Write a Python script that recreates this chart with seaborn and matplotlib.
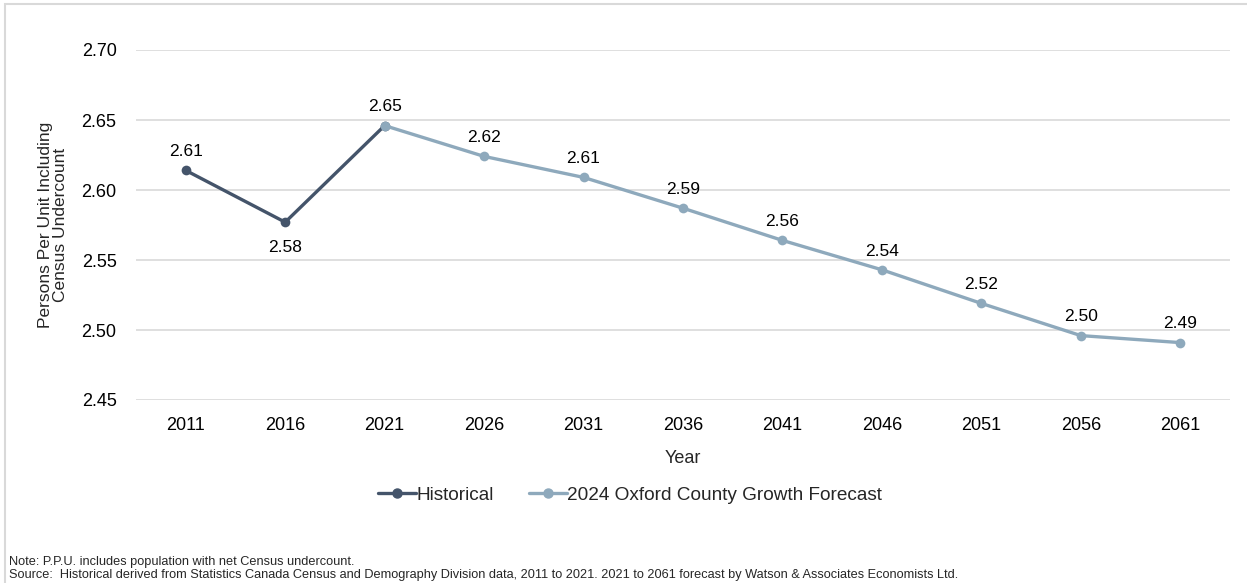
import matplotlib
matplotlib.use("Agg")
import matplotlib.pyplot as plt
import seaborn as sns
import pandas as pd
from matplotlib.patches import Rectangle
from matplotlib.lines import Line2D

hist_years = [2011, 2016, 2021]
hist_ppu = [2.614, 2.577, 2.646]
fc_years = [2021, 2026, 2031, 2036, 2041, 2046, 2051, 2056, 2061]
fc_ppu = [2.646, 2.624, 2.609, 2.587, 2.564, 2.543, 2.519, 2.496, 2.491]
labels = ["2.61", "2.58", "2.65", "2.62", "2.61", "2.59", "2.56", "2.54", "2.52", "2.50", "2.49"]
label_years = [2011, 2016, 2021, 2026, 2031, 2036, 2041, 2046, 2051, 2056, 2061]
label_vals = [2.614, 2.577, 2.646, 2.624, 2.609, 2.587, 2.564, 2.543, 2.519, 2.496, 2.491]
label_below = [False, True, False, False, False, False, False, False, False, False, False]
y_ticks = [2.45, 2.50, 2.55, 2.60, 2.65, 2.70]

HIST = "Historical"
FC = "2024 Oxford County Growth Forecast"
df = pd.DataFrame({
    "Year": hist_years + fc_years,
    "PPU": hist_ppu + fc_ppu,
    "Series": [HIST] * len(hist_years) + [FC] * len(fc_years),
})

sns.set_theme(style="white")
plt.rcParams["font.family"] = ["Liberation Sans", "DejaVu Sans"]

W, H = 1247, 583
fig = plt.figure(figsize=(W / 100, H / 100), dpi=100)
ax = fig.add_axes([136 / W, 1 - 400 / H, (1230 - 136) / W, 350 / H])

palette = {HIST: "#44546A", FC: "#8EA9BC"}
sns.lineplot(data=df, x="Year", y="PPU", hue="Series", palette=palette,
             marker="o", markersize=7, markeredgewidth=0, linewidth=2.4,
             ax=ax, legend=False, zorder=3)

ax.set_xlim(2011 - 2.5, 2061 + 2.5)
ax.set_ylim(2.45, 2.70)
ax.set_yticks(y_ticks)
ax.set_yticklabels([f"{v:.2f}" for v in y_ticks])
ax.set_xticks(label_years)
ax.set_xticklabels([str(y) for y in label_years])
ax.tick_params(axis="both", labelsize=13, colors="#000000", length=0)
ax.tick_params(axis="y", pad=14)
ax.tick_params(axis="x", pad=12)
ax.grid(axis="y", color="#D9D9D9", linewidth=1.2)
ax.grid(axis="x", visible=False)
for s in ax.spines.values():
    s.set_visible(False)

for yr, v, lab, below in zip(label_years, label_vals, labels, label_below):
    ax.annotate(lab, (yr, v), xytext=(0, -13 if below else 8), textcoords="offset points",
                ha="center", va="top" if below else "bottom", fontsize=12.5, color="#000000")

ax.set_xlabel("Year", fontsize=13, labelpad=12)
ax.set_ylabel("Persons Per Unit Including\nCensus Undercount", fontsize=12.5, labelpad=10,
              linespacing=0.95)

handles = [Line2D([], [], color=palette[HIST], marker="o", markersize=6.5, linewidth=2.4),
           Line2D([], [], color=palette[FC], marker="o", markersize=6.5, linewidth=2.4)]
fig.legend(handles, [HIST, FC], loc="center", bbox_to_anchor=(630 / W, 1 - 495 / H),
           ncol=2, frameon=False, fontsize=13.7, handlelength=2.0, handletextpad=0.0,
           columnspacing=1.85, borderpad=0, borderaxespad=0)

fig.text(9 / W, 1 - 562 / H, "Note: P.P.U. includes population with net Census undercount.",
         fontsize=9.2, va="center", ha="left")
fig.text(9 / W, 1 - 575 / H,
         "Source:  Historical derived from Statistics Canada Census and Demography Division data, 2011 to 2021. 2021 to 2061 forecast by Watson & Associates Economists Ltd.",
         fontsize=9.2, va="center", ha="left")

fig.patches.append(Rectangle((5 / W, -0.05), 1.2, 1 - 4 / H + 0.05, transform=fig.transFigure,
                             fill=False, edgecolor="#D9D9D9", linewidth=1.5, zorder=0))

fig.savefig("out.png", dpi=100)
